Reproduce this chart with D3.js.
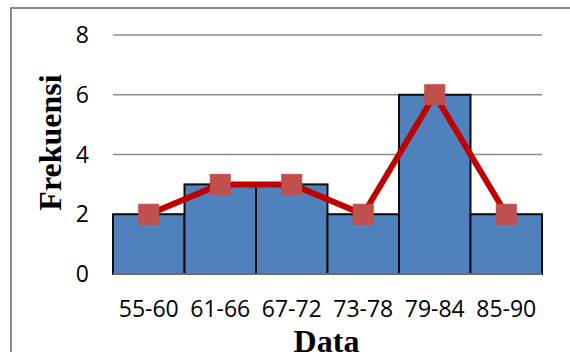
<!DOCTYPE html>
<html><head><meta charset="utf-8">
<script src="https://cdn.jsdelivr.net/npm/d3@7"></script>
<style>body{margin:0;background:#fff;}svg{display:block;}</style>
</head><body>
<script>
const categories = ["55-60","61-66","67-72","73-78","79-84","85-90"];
const frequencies = [2,3,3,2,6,2];
const yTicks = [0,2,4,6,8];
const xTitle = "Data";
const yTitle = "Frekuensi";

(function(){
const W = 570, H = 352;
const svg = d3.select("body").append("svg").attr("width", W).attr("height", H);

// chart border
svg.append("rect").attr("x", 11).attr("y", 8).attr("width", 600).attr("height", 400)
  .attr("fill", "none").attr("stroke", "#8c8c8c").attr("stroke-width", 2);

const pLeft = 113, pRight = 542, pTop = 35, pBottom = 274;
const x = d3.scaleBand().domain(categories).range([pLeft, pRight]).padding(0);
const y = d3.scaleLinear().domain([0, 8]).range([pBottom, pTop]);

// gridlines
svg.append("g").selectAll("line").data(yTicks).join("line")
  .attr("x1", pLeft).attr("x2", pRight)
  .attr("y1", d => y(d)).attr("y2", d => y(d))
  .attr("stroke", "#8c8c8c").attr("stroke-width", 1.5);

// y tick labels
svg.append("g").selectAll("text").data(yTicks).join("text")
  .attr("x", 89).attr("y", d => y(d)).attr("dy", "0.35em")
  .attr("text-anchor", "end")
  .attr("font-family", "'Open Sans', sans-serif").attr("font-size", 23)
  .attr("fill", "#000").text(d => d);

// bars
svg.append("g").selectAll("rect").data(frequencies).join("rect")
  .attr("x", (d, i) => x(categories[i]))
  .attr("y", d => y(d))
  .attr("width", x.bandwidth())
  .attr("height", d => y(0) - y(d))
  .attr("fill", "#4f81bd").attr("stroke", "#0d0d0d").attr("stroke-width", 2);

// baseline axis
svg.append("line").attr("x1", pLeft).attr("x2", pRight).attr("y1", y(0)).attr("y2", y(0))
  .attr("stroke", "#8c8c8c").attr("stroke-width", 1.5);

// x tick labels
svg.append("g").selectAll("text").data(categories).join("text")
  .attr("x", d => x(d) + x.bandwidth() / 2).attr("y", 317)
  .attr("text-anchor", "middle")
  .attr("font-family", "'Open Sans', sans-serif").attr("font-size", 23)
  .attr("fill", "#000").text(d => d);

// frequency polygon line
const line = d3.line()
  .x((d, i) => x(categories[i]) + x.bandwidth() / 2)
  .y(d => y(d));
svg.append("path").datum(frequencies).attr("d", line)
  .attr("fill", "none").attr("stroke", "#c00000").attr("stroke-width", 6)
  .attr("stroke-linejoin", "round");

// markers
const ms = 20;
svg.append("g").selectAll("rect").data(frequencies).join("rect")
  .attr("x", (d, i) => x(categories[i]) + x.bandwidth() / 2 - ms / 2)
  .attr("y", d => y(d) - ms / 2)
  .attr("width", ms).attr("height", ms)
  .attr("fill", "#c0504d").attr("stroke", "#c0504d").attr("stroke-width", 1);

// axis titles
svg.append("text").attr("x", 326.5).attr("y", 352)
  .attr("text-anchor", "middle")
  .attr("font-family", "'Liberation Serif', 'Times New Roman', serif")
  .attr("font-weight", "bold").attr("font-size", 32)
  .text(xTitle);

svg.append("text")
  .attr("transform", "translate(61,142.5) rotate(-90)")
  .attr("text-anchor", "middle")
  .attr("font-family", "'Liberation Serif', 'Times New Roman', serif")
  .attr("font-weight", "bold").attr("font-size", 32)
  .text(yTitle);
})();
</script>
</body></html>
